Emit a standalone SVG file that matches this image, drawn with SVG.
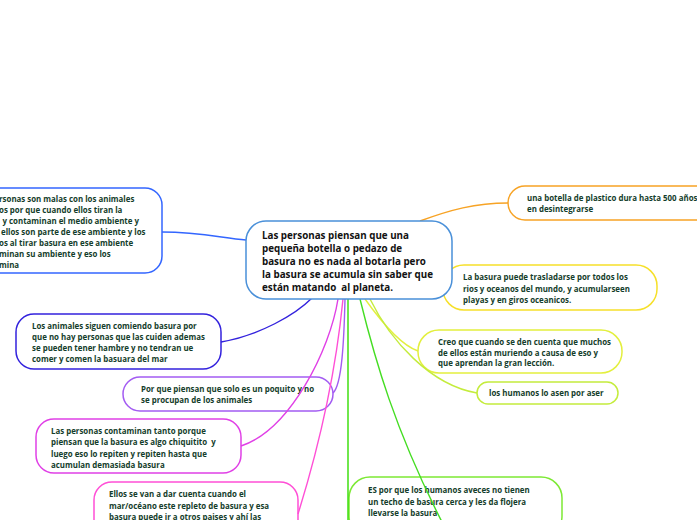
<svg xmlns="http://www.w3.org/2000/svg" width="697" height="520" viewBox="0 0 697 520">
<style>
.box{fill:#fff;stroke-width:1.5}
.t{font-family:"Open Sans","Noto Sans","DejaVu Sans",sans-serif;font-weight:700;font-size:7.9px;fill:#143d2b;white-space:pre}
.c{font-family:"Open Sans","Noto Sans","DejaVu Sans",sans-serif;font-weight:700;font-size:9.8px;fill:#121212;white-space:pre}
.cn{fill:none;stroke-width:1.4}
</style>
<rect width="697" height="520" fill="#fff"/>
<g id="n-marinos">
<rect class="box" x="-30" y="188" width="192" height="85" rx="17" stroke="#3366ff"/>
<text class="t"><tspan x="-1" y="202">rsonas son malas con los animales</tspan><tspan x="-1" y="213">os por que cuando ellos tiran la</tspan><tspan x="2.5" y="224">y contaminan el medio ambiente y</tspan><tspan x="1" y="235">ellos son parte de ese ambiente y los</tspan><tspan x="-1" y="246">os al tirar basura en ese ambiente</tspan><tspan x="-1" y="257">minan su ambiente y eso los</tspan><tspan x="-1" y="268">mina</tspan></text>
</g>
<g id="n-botella">
<rect class="box" x="508" y="186" width="230" height="34" rx="17" stroke="#f7a325"/>
<text class="t"><tspan x="527" y="200.5">una botella de plastico dura hasta 500 años</tspan><tspan x="527" y="212">en desintegrarse</tspan></text>
</g>
<g id="n-trasladarse">
<rect class="box" x="443" y="265" width="214" height="45" rx="21" stroke="#f6e02a"/>
<text class="t"><tspan x="463" y="280">La basura puede trasladarse por todos los</tspan><tspan x="463" y="291.5">rios y oceanos del mundo, y acumularseen</tspan><tspan x="463" y="302.5">playas y en giros oceanicos.</tspan></text>
</g>
<g id="n-creo">
<rect class="box" x="418" y="330" width="204" height="43" rx="21" stroke="#e3ef3e"/>
<text class="t"><tspan x="438" y="345">Creo que cuando se den cuenta que muchos</tspan><tspan x="438" y="355.5">de ellos están muriendo a causa de eso y</tspan><tspan x="438" y="366">que aprendan la gran lección.</tspan></text>
</g>
<g id="n-asen">
<rect class="box" x="477" y="382" width="141" height="22" rx="11" stroke="#c4ec3c"/>
<text class="t"><tspan x="489" y="396">los humanos lo asen por aser</tspan></text>
</g>
<g id="n-animales">
<rect class="box" x="16" y="314" width="205" height="55" rx="18" stroke="#3322dd"/>
<text class="t"><tspan x="32" y="329">Los animales siguen comiendo basura por</tspan><tspan x="32" y="340">que no hay personas que las cuiden ademas</tspan><tspan x="32" y="351">se pueden tener hambre y no tendran ue</tspan><tspan x="32" y="362">comer y comen la basuara del mar</tspan></text>
</g>
<g id="n-poquito">
<rect class="box" x="123" y="377" width="210" height="34" rx="17" stroke="#a35cf2"/>
<text class="t"><tspan x="141" y="392">Por que piensan que solo es un poquito y no</tspan><tspan x="141" y="403">se procupan de los animales</tspan></text>
</g>
<g id="n-chiquitito">
<rect class="box" x="36" y="419" width="205" height="54" rx="18" stroke="#e040e6"/>
<text class="t"><tspan x="51" y="434">Las personas contaminan tanto porque</tspan><tspan x="51" y="445">piensan que la basura es algo chiquitito  y</tspan><tspan x="51" y="456.5">luego eso lo repiten y repiten hasta que</tspan><tspan x="51" y="467.5">acumulan demasiada basura</tspan></text>
</g>
<g id="n-oceano">
<rect class="box" x="94" y="482" width="204" height="60" rx="18" stroke="#ff4fd6"/>
<text class="t"><tspan x="109" y="497">Ellos se van a dar cuenta cuando el</tspan><tspan x="109" y="508.5">mar/océano este repleto de basura y esa</tspan><tspan x="109" y="519.5">basura puede ir a otros paises y ahí las</tspan></text>
</g>
<g id="n-techo">
<rect class="box" x="349" y="477" width="213" height="60" rx="21" stroke="#7de935"/>
<text class="t"><tspan x="368" y="493">ES por que los humanos aveces no tienen</tspan><tspan x="368" y="505">un techo de basura cerca y les da flojera</tspan><tspan x="368" y="516">llevarse la basura</tspan></text>
</g>
<g id="connectors">
<path class="cn" stroke="#3366ff" d="M162,232 C200,232 222,238 246,240"/>
<path class="cn" stroke="#f7a325" d="M420,221 C450,210 475,203 508,203"/>
<path class="cn" stroke="#3322dd" d="M221,342 C260,335 295,315 312,298"/>
<path class="cn" stroke="#a35cf2" d="M333,393 C342,385 344,340 345,299"/>
<path class="cn" stroke="#e040e6" d="M241,446 C290,430 330,350 338,299"/>
<path class="cn" stroke="#ff4fd6" d="M298,514 C318,450 335,380 343,299"/>
<path class="cn" stroke="#33dd00" d="M348,299 L348,522"/>
<path class="cn" stroke="#44dd22" d="M360,299 C375,360 395,430 442,522"/>
<path class="cn" stroke="#e3ef3e" d="M365,299 C380,320 400,345 418,351"/>
<path class="cn" stroke="#c4ec3c" d="M370,299 C390,340 430,385 477,393"/>
</g>
<g id="n-central">
<rect class="box" x="246" y="221" width="206" height="78" rx="20" stroke="#4a90d9"/>
<text class="c"><tspan x="262" y="238.5">Las personas piensan que una</tspan><tspan x="262" y="251.5">pequeña botella o pedazo de</tspan><tspan x="262" y="264.5">basura no es nada al botarla pero</tspan><tspan x="262" y="277.5">la basura se acumula sin saber que</tspan><tspan x="262" y="291">están matando  al planeta.</tspan></text>
</g>
</svg>
